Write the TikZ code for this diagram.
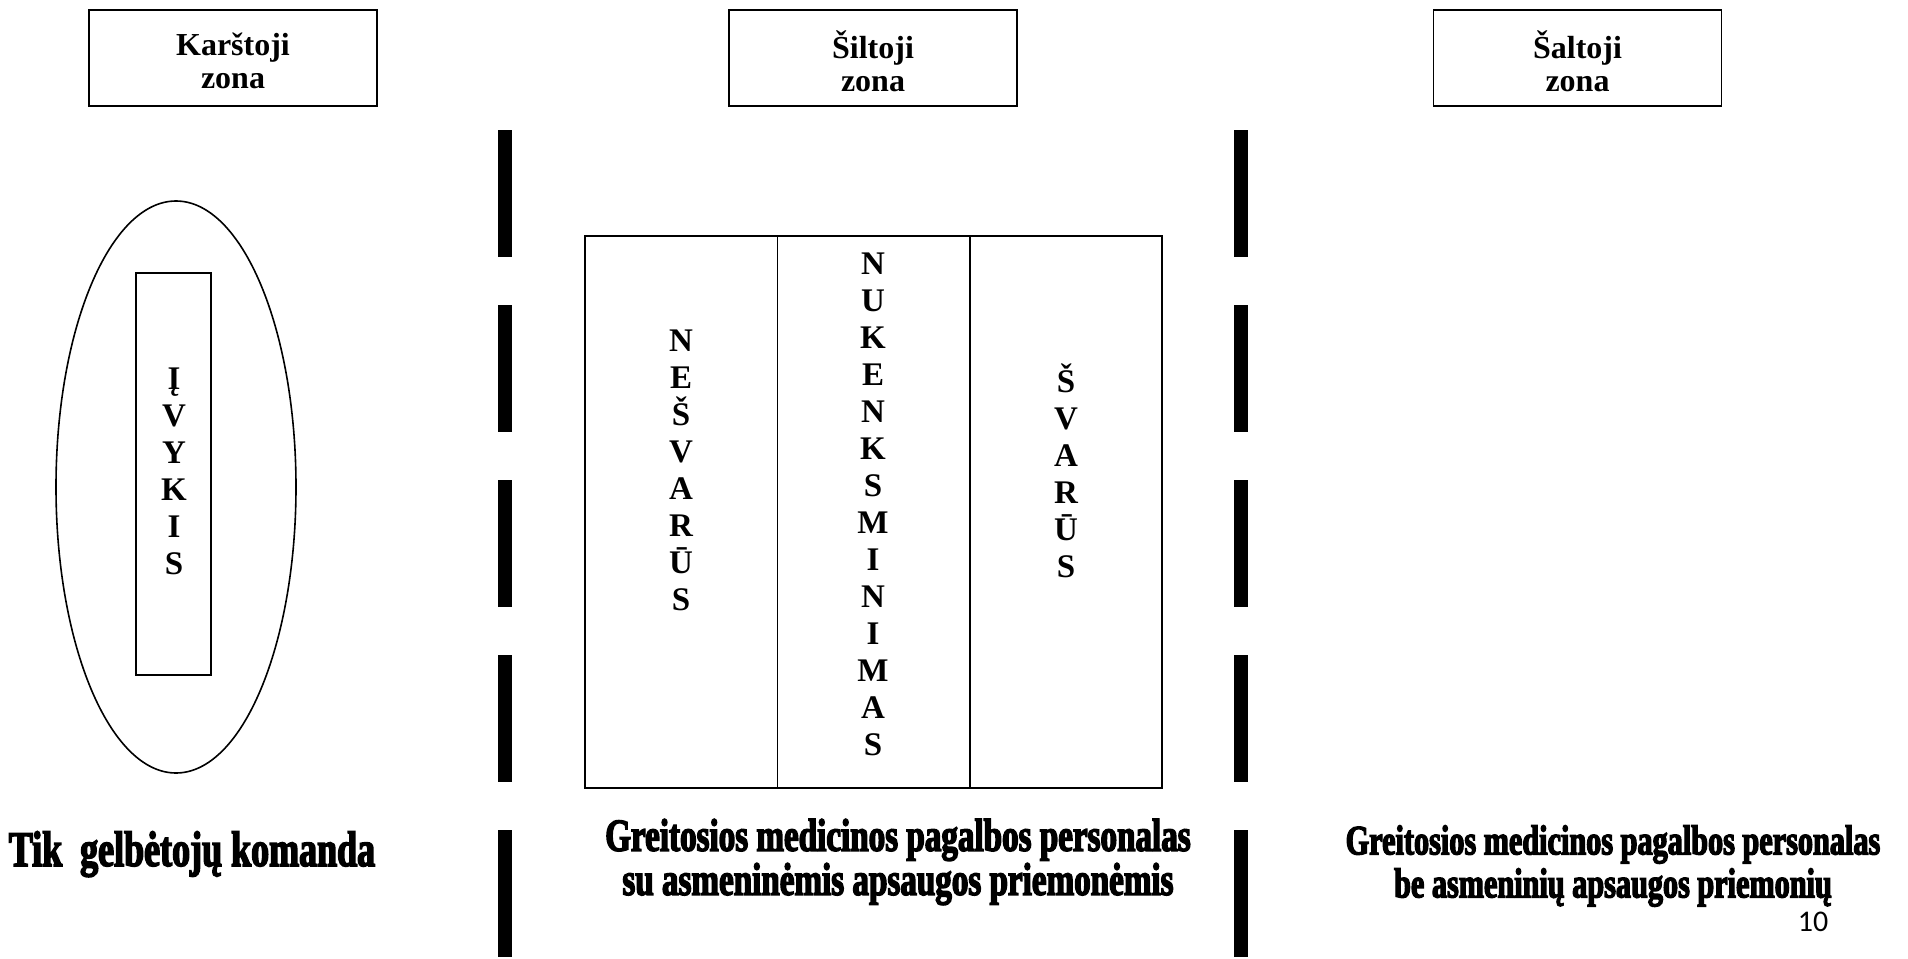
\documentclass[tikz,border=0pt]{standalone}
\usepackage{fontspec}
\setmainfont{Liberation Serif}
\newfontfamily\crewfont{Liberation Serif}[FakeStretch=0.72, BoldFeatures={FakeBold=3}]
\newfontfamily\pagefont{Carlito}
\usetikzlibrary{shapes.geometric, positioning}

\begin{document}
\begin{tikzpicture}[x=0.5pt, y=-0.5pt, line width=0.8pt,
    zonebox/.style={draw, rectangle, minimum width=144pt, minimum height=48pt},
    zonetitle/.style={align=center, font=\fontsize{16}{16.5}\selectfont\bfseries},
    column/.style={draw, rectangle, outer sep=0pt, minimum width=96.17pt, minimum height=276pt},
    letters/.style={align=center, font=\fontsize{16.5}{18.5}\selectfont\bfseries},
    crew/.style={align=center},
    wall/.style={line width=7pt, dash pattern=on 63.5pt off 24pt}]
    \useasboundingbox (0,0) rectangle (1908,959);

    % zone titles
    \node [zonebox] (hot) at (233,58) {};
    \node [zonebox] (warm) at (873,58) {};
    \node [zonebox] (cold) at (1577.5,58) {};
    \node [zonetitle] (hottxt) at ([yshift=-1.5pt]hot.center) {Karštoji\\zona};
    \node [zonetitle] (warmtxt) at ([yshift=-1.5pt]warm.center) {Šiltoji\\zona};
    \node [zonetitle] (coldtxt) at ([yshift=-1.5pt]cold.center) {Šaltoji\\zona};

    % borders between zones
    \coordinate (wallA) at (505,130);
    \coordinate (wallAend) at (505,959);
    \coordinate (wallB) at (1241,130);
    \coordinate (wallBend) at (1241,959);
    \draw [wall] (wallA) -- (wallAend);
    \draw [wall] (wallB) -- (wallBend);

    % hot zone
    \node [draw, ellipse, minimum width=120pt, minimum height=286pt] (scene) at (176,487) {};
    \node [draw, rectangle, minimum width=37.5pt, minimum height=201pt] (event) at (173.5,474) {};
    \node [letters] (eventtxt) at (174,471) {Į\\V\\Y\\K\\I\\S};

    % warm zone
    \node [column] (dirty) at (681.2,512) {};
    \node [column, right=0pt of dirty] (decon) {};
    \node [column, right=0pt of decon] (clean) {};
    \node [letters] (dirtytxt) at (681,470) {N\\E\\Š\\V\\A\\R\\Ū\\S};
    \node [letters] (decontxt) at (873,504) {N\\U\\K\\E\\N\\K\\S\\M\\I\\N\\I\\M\\A\\S};
    \node [letters] (cleantxt) at (1066,471) {Š\\V\\A\\R\\Ū\\S};

    % who works where
    \node [crew, font=\crewfont\bfseries\fontsize{25}{28}\selectfont, anchor=base] (rescue) at (192,866) {Tik\ \ gelbėtojų komanda};
    \node [crew, font=\crewfont\bfseries\fontsize{23}{21}\selectfont] (medsuit) at (898,862) {Greitosios medicinos pagalbos personalas\\su asmeninėmis apsaugos priemonėmis};
    \node [crew, font=\crewfont\bfseries\fontsize{21}{21.5}\selectfont] (medplain) at (1613,866) {Greitosios medicinos pagalbos personalas\\be asmeninių apsaugos priemonių};

    \node [font=\pagefont\fontsize{15}{18}\selectfont] (page) at (1813,922) {10};
\end{tikzpicture}
\end{document}
